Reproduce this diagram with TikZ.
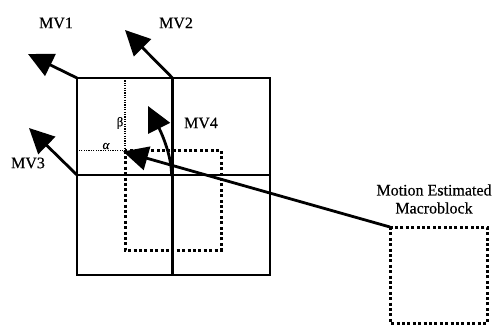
\documentclass[tikz,border=0pt]{standalone}
\usepackage{fontspec}
\setmainfont{Liberation Serif}
\newfontfamily\lblfont{Liberation Serif}[FakeBold=0.4]
\usetikzlibrary{arrows.meta}
\begin{document}
\begin{tikzpicture}[x=1pt,y=-1pt,
  gridline/.style={line width=2.2pt},
  mvarrow/.style={line width=2.8pt,-{Triangle[length=25pt,width=24pt]}},
  fineline/.style={line width=1.1pt,dash pattern=on 1.1pt off 1.3pt},
  mbline/.style={line width=3pt,dash pattern=on 3pt off 2.4pt},
  lbl/.style={font=\fontsize{16}{18}\lblfont,inner sep=0pt},
  greek/.style={font=\fontsize{13}{15}\lblfont,inner sep=0pt}
]
\useasboundingbox[fill=white] (0,0) rectangle (495,325);
% named points
\coordinate (tl) at (77,78);
\coordinate (tm) at (172.5,78);
\coordinate (ml) at (77,175);
\coordinate (cc) at (172.5,175);
\coordinate (br) at (270,275);
\coordinate (bm) at (172.5,275);
\coordinate (mr) at (270,175);
\coordinate (dt) at (125,78);
\coordinate (ab) at (125,150.5);
\coordinate (al) at (77,150.5);
\coordinate (sqbr) at (221,250);
\coordinate (me) at (390,227);
\coordinate (mebr) at (487,323);
\coordinate (t1) at (28,54);
\coordinate (t2) at (125,30);
\coordinate (t3) at (29,128);
\coordinate (t4) at (148,106);
\coordinate (c4) at (171.5,176);
\coordinate (tl2) at (123,151.5);
% grid
\draw[gridline] (tl) rectangle (br);
\draw[gridline] (tm) -- (bm);
\draw[gridline] (ml) -- (mr);
% fine dotted
\draw[fineline] (dt) -- (ab) -- (al);
% macroblocks
\draw[mbline] (ab) rectangle (sqbr);
\draw[mbline] (me) rectangle (mebr);
% arrows
\draw[mvarrow] (tl) -- (t1);
\draw[mvarrow] (tm) -- (t2);
\draw[mvarrow] (ml) -- (t3);
\draw[mvarrow] (c4) .. controls (172,158) and (163,136) .. (t4);
\draw[mvarrow] (me) -- (tl2);
% labels
\node[lbl] (mv1) at (56,23) {MV1};
\node[lbl] (mv2) at (176,23) {MV2};
\node[lbl] (mv3) at (28,163) {MV3};
\node[lbl] (mv4) at (201,123) {MV4};
\node[greek] (beta) at (120,123) {β};
\node[greek] (alpha) at (106,146) {\itshape α};
\node[lbl,align=center] (mel) at (434,199) {Motion Estimated\\Macroblock};
\end{tikzpicture}
\end{document}
